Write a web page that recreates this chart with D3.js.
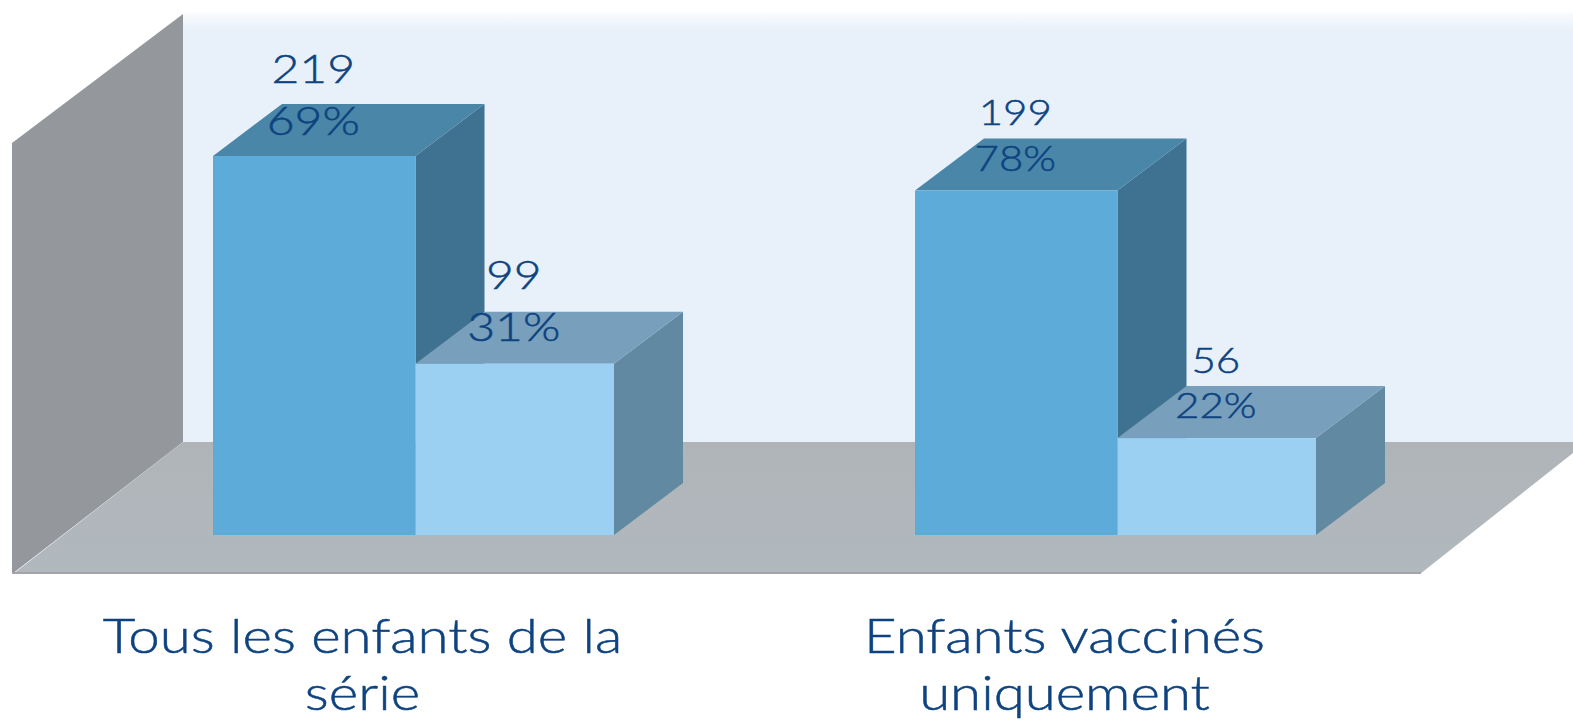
<!DOCTYPE html>
<html>
<head>
<meta charset="utf-8">
<script src="https://d3js.org/d3.v7.min.js"></script>
<style>
	html, body { margin: 0; padding: 0; background: #fff; }
	svg { display: block; }
	text { font-family: Lato, "Open Sans", sans-serif; font-weight: 300; fill: #0e437f; stroke: #0e437f; stroke-width: 0.5px; }
</style>
</head>
<body>
<svg id="chart"></svg>
<script>
const categories = ['Tous les enfants de la série', 'Enfants vaccinés uniquement'];
const categoryLines = [['Tous les enfants de la', 'série'], ['Enfants vaccinés', 'uniquement']];
const series = ['oui', 'non'];
const counts = [[219, 99], [199, 56]];
const percents = [[69, 31], [78, 22]];

// dimensions
const width = 1573;
const height = 720;
const baseY = 535;
const depth = {x: 69, y: 52};
const stretch = 1.2; // the original type is wider than anything installed
const split = 2; // dark bar is a little wider than the light one

const $svg = d3.select('#chart').attr('width', width).attr('height', height);

// scales
const scaleX = d3.scaleBand()
	.domain(categories)
	.range([213, 1316])
	.paddingInner(0.4288);

const scaleSeries = d3.scaleBand()
	.domain(series)
	.range([0, scaleX.bandwidth()]);

const scaleY = d3.scaleLinear()
	.domain([0, 219])
	.range([baseY, 156]);

const colors = {
	oui: {front: '#5cabd9', side: '#3f7291', top: '#4986a8'},
	non: {front: '#9bd0f3', side: '#6189a1', top: '#789fbb'}
};
const labelSize = [40, 35];
const labelGap = [[[21, 73], [23, 75]], [[20, 66], [20, 65]]];

const poly = pts => pts.map(p => p.join(',')).join(' ');

const defs = $svg.append('defs');
const wallFade = defs.append('linearGradient').attr('id', 'wallFade')
	.attr('x1', 0).attr('x2', 0).attr('y1', 0).attr('y2', 1);
wallFade.append('stop').attr('offset', 0).attr('stop-color', '#fbfcfe');
wallFade.append('stop').attr('offset', 0.04).attr('stop-color', '#e8f1fa');
wallFade.append('stop').attr('offset', 1).attr('stop-color', '#e8f1fa');

const floorFade = defs.append('linearGradient').attr('id', 'floorFade')
	.attr('x1', 0).attr('x2', 0).attr('y1', 0).attr('y2', 1);
floorFade.append('stop').attr('offset', 0).attr('stop-color', '#b0b4b8');
floorFade.append('stop').attr('offset', 1).attr('stop-color', '#b1b9be');

// room: back wall, left wall and floor
$svg.append('rect')
	.attr('x', 183).attr('y', 12)
	.attr('width', width - 183).attr('height', 432)
	.attr('fill', 'url(#wallFade)');

$svg.append('polygon')
	.attr('points', poly([[12, 143], [183, 14], [183, 442], [12, 574]]))
	.attr('fill', '#94989c');

$svg.append('polygon')
	.attr('points', poly([[13, 574], [183, 442], [1573, 442], [1573, 453], [1420, 574]]))
	.attr('fill', 'url(#floorFade)');

$svg.append('rect')
	.attr('x', 12).attr('y', 572)
	.attr('width', 1409).attr('height', 2)
	.attr('fill', '#a3a3ab');

// bars
categories.forEach(function(cat, c) {
	series.forEach(function(s, i) {
		const x0 = scaleX(cat) + scaleSeries(s) + (i === 1 ? split : 0);
		const x1 = scaleX(cat) + scaleSeries(s) + scaleSeries.bandwidth() + (i === 0 ? split : 0);
		const y0 = scaleY(counts[c][i]);
		const $bar = $svg.append('g').attr('class', 'bar');

		$bar.append('polygon')
			.attr('points', poly([[x1, y0], [x1 + depth.x, y0 - depth.y], [x1 + depth.x, baseY - depth.y], [x1, baseY]]))
			.attr('fill', colors[s].side);
		$bar.append('polygon')
			.attr('points', poly([[x0, y0], [x0 + depth.x, y0 - depth.y], [x1 + depth.x, y0 - depth.y], [x1, y0]]))
			.attr('fill', colors[s].top);
		$bar.append('rect')
			.attr('x', x0).attr('y', y0)
			.attr('width', x1 - x0).attr('height', baseY - y0)
			.attr('fill', colors[s].front);
	});
});

// value labels sit over the bar tops
categories.forEach(function(cat, c) {
	series.forEach(function(s, i) {
		const cx = scaleX(cat) + scaleSeries(s) + scaleSeries.bandwidth() / 2;
		const y0 = scaleY(counts[c][i]);
		$svg.append('text')
			.attr('transform', 'translate(' + cx + ',' + (y0 - labelGap[c][i][1]) + ') scale(' + stretch + ',1)')
			.attr('text-anchor', 'middle')
			.style('font-size', labelSize[c] + 'px')
			.text(counts[c][i]);
		$svg.append('text')
			.attr('transform', 'translate(' + cx + ',' + (y0 - labelGap[c][i][0]) + ') scale(' + stretch + ',1)')
			.attr('text-anchor', 'middle')
			.style('font-size', labelSize[c] + 'px')
			.text(percents[c][i] + '%');
	});
});

// category labels are off centre from the bars in the original
const $axis = $svg.append('g')
	.attr('transform', 'translate(-51,0)')
	.call(d3.axisBottom(scaleX).tickSize(0));
$axis.select('.domain').remove();
$axis.selectAll('.tick text')
	.attr('y', 0)
	.attr('dy', null)
	.attr('transform', 'scale(' + stretch + ',1)')
	.style('font-size', '47px')
	.style('font-family', 'Lato')
	.style('font-weight', 300)
	.style('fill', '#0e437f')
	.each(function(d, c) {
		const $t = d3.select(this).text(null);
		categoryLines[c].forEach(function(line, n) {
			$t.append('tspan')
				.attr('x', 0)
				.attr('y', n === 0 ? 653 : 710)
				.text(line);
		});
	});
</script>
</body>
</html>
